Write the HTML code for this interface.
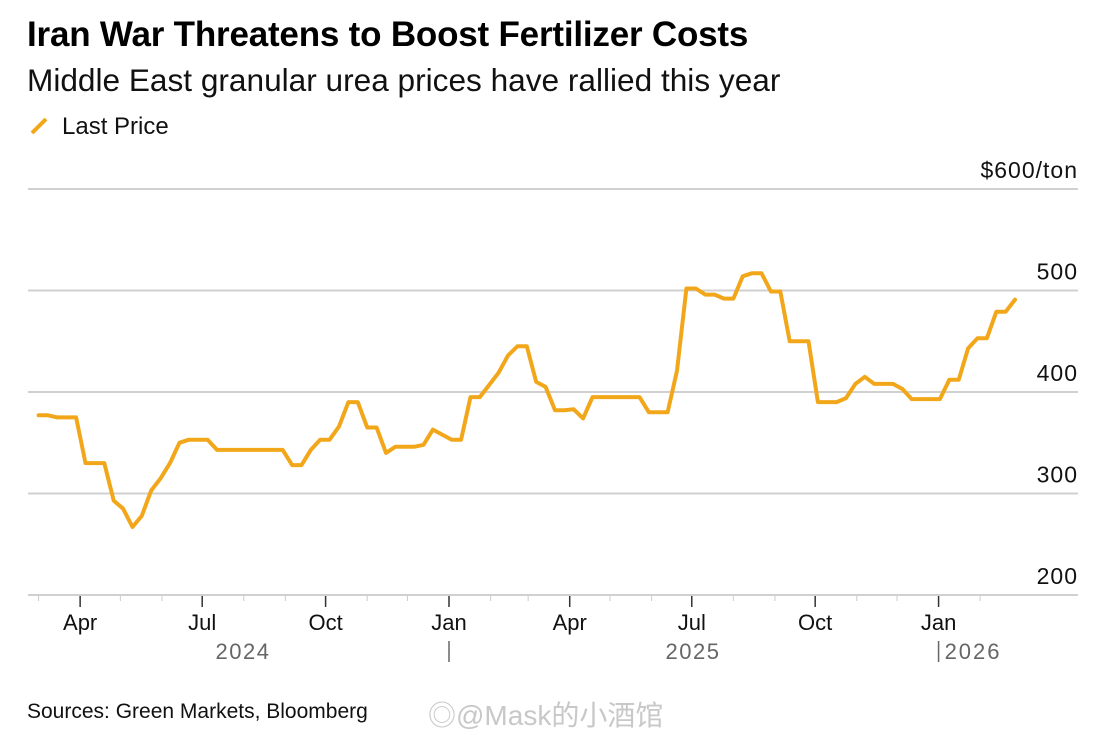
<!DOCTYPE html>
<html><head><meta charset="utf-8"><style>
body{margin:0;background:#fff;font-family:"Liberation Sans",sans-serif;}
#wrap{position:relative;width:1108px;height:735px;overflow:hidden;background:#fff}
.t{position:absolute;white-space:nowrap}
</style></head><body>
<div id="wrap">
<div class="t" style="left:27px;top:15px;font-size:35px;font-weight:bold;color:#000;letter-spacing:-0.2px">Iran War Threatens to Boost Fertilizer Costs</div>
<div class="t" style="left:27px;top:62px;font-size:31.6px;color:#111">Middle East granular urea prices have rallied this year</div>
<div class="t" style="left:28px;top:113px;font-size:24px;color:#111">
<svg width="24" height="24" style="vertical-align:-3px"><line x1="4" y1="20" x2="18" y2="6" stroke="#f2a71b" stroke-width="4"/></svg><span style="margin-left:10px">Last Price</span></div>
<div class="t" style="left:27px;top:700px;font-size:21px;color:#111">Sources: Green Markets, Bloomberg</div>
<div class="t" style="left:428px;top:694px;font-size:28px;color:#c8c8c8;font-family:'Liberation Sans','Noto Sans CJK SC',sans-serif">◎@Mask的小酒馆</div>
<svg id="chart" width="1108" height="735" style="position:absolute;left:0;top:0"></svg>
</div>
<script>
const startDate = "2024-03-01";
const weekNo = [0,1,2,4,5,7,8,9,10,11,12,13,14,15,16,18,19,26,27,28,29,30,31,32,33,34,35,36,37,38,40,41,42,44,45,46,47,49,50,51,52,53,54,55,56,57,58,59,64,65,67,68,69,70,71,72,73,74,75,76,77,78,79,80,82,83,85,86,87,88,89,91,92,93,96,97,98,99,100,101,102,103,104];
const prices = [377,377,375,375,330,330,293,285,267,278,303,315,330,350,353,353,343,343,328,328,343,353,353,366,390,390,365,365,340,346,346,348,363,353,353,395,395,419,436,445,445,410,405,382,382,383,374,395,395,380,380,421,502,502,496,496,492,492,514,517,517,499,499,450,450,390,390,394,408,415,408,408,403,393,393,412,412,443,453,453,479,479,491];
const yTicks = [200,300,400,500,600];
const yTickLabels = ["200","300","400","500","$600/ton"];
const monthLabels = ["Jan","Feb","Mar","Apr","May","Jun","Jul","Aug","Sep","Oct","Nov","Dec"];

const svg = document.getElementById('chart');
const NS = "http://www.w3.org/2000/svg";
const ref = Date.UTC(2025,0,1);
function xScale(ms){ return 449 + (ms-ref)/86400000*1.3413; }
function yScale(v){ return 595 - (v-200)*(595-189)/400; }
function mk(tag, attrs){ const e=document.createElementNS(NS,tag); for(const k in attrs) e.setAttribute(k,attrs[k]); svg.appendChild(e); return e; }

yTicks.forEach((v,i)=>{
  const y=yScale(v);
  const g=mk('line',{x1:28,x2:1078,y1:y,y2:y,stroke:'#d0d0d0','stroke-width':2});
  
  
  const t=mk('text',{x:1078,y:y-11,'text-anchor':'end','font-size':23,fill:'#111','font-family':'Liberation Sans, sans-serif','letter-spacing':'1'});
  t.textContent=yTickLabels[i];
  
  
});

const lastTick = Date.UTC(2026,1,1);
for(let y=2024;y<=2026;y++){
  for(let m=0;m<12;m++){
    const d=Date.UTC(y,m,1);
    const x=xScale(d);
    if(x<30||d>lastTick) continue;
    const major = m%3===0;
    const tk=mk('line',{x1:x,x2:x,y1:596,y2:major?607:601,stroke:major?'#333':'#ccc','stroke-width':major?1.5:1});
    
    
    if(major){
      const t=mk('text',{x:x,y:630,'text-anchor':'middle','font-size':22,fill:'#111','font-family':'Liberation Sans, sans-serif'});
      t.textContent=monthLabels[m];
      
      
    }
  }
}
[[2024,243],[2025,693]].forEach(([yr,x])=>{
  const t=mk('text',{x:x,y:659,'text-anchor':'middle','font-size':22,fill:'#666','font-family':'Liberation Sans, sans-serif','letter-spacing':'1.5'});
  t.textContent=String(yr);
  
  
});
[2025,2026].forEach(yr=>{
  const x=xScale(Date.UTC(yr,0,1));
  const l=mk('line',{x1:x,x2:x,y1:641,y2:662,stroke:'#666','stroke-width':1.5});
  
  
});
const t26=mk('text',{x:xScale(Date.UTC(2026,0,1))+6,y:659,'font-size':22,fill:'#666','font-family':'Liberation Sans, sans-serif','letter-spacing':'2'});
t26.textContent="2026";



const s0=Date.parse(startDate+"T00:00:00Z");
const pts=weekNo.map((w,i)=>xScale(s0+w*7*86400000).toFixed(1)+','+yScale(prices[i]).toFixed(1)).join(' ');
const pl=mk('polyline',{points:pts,fill:'none',stroke:'#f2a71b','stroke-width':4,'stroke-linejoin':'round','stroke-linecap':'round'});


</script>
</body></html>
